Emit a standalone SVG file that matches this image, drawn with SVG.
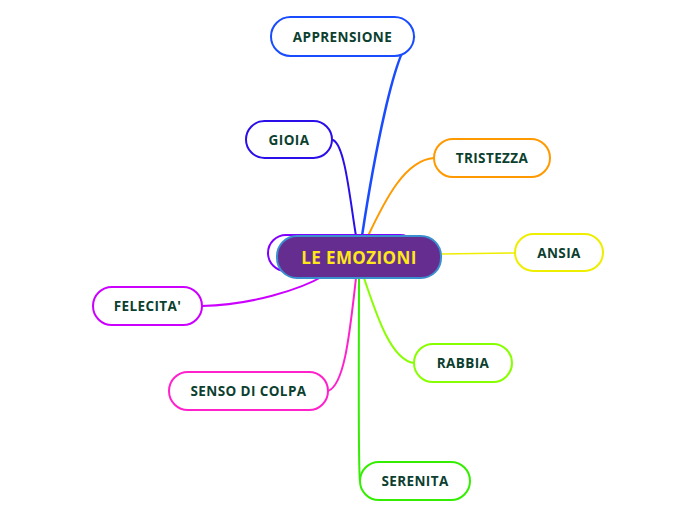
<svg xmlns="http://www.w3.org/2000/svg" width="696" height="520" viewBox="0 0 696 520">
<style>
.n rect{fill:#fff;stroke-width:2}
.n text{font-family:"Open Sans","Noto Sans",sans-serif;font-weight:bold;font-size:13.5px;letter-spacing:0.4px;fill:#0c3f2f;text-anchor:middle;dominant-baseline:central}
.c path{fill:none;stroke-linecap:round}
</style>
<rect width="696" height="520" fill="#fff"/>
<g class="c" id="connectors">
<path d="M362,236 C372,170 395,40 414,37" stroke="#1a4cff" stroke-width="2.5"/>
<path d="M356,236 C350,200 345,145 333,140" stroke="#2a0fe8" stroke-width="2"/>
<path d="M368,236 C385,200 405,160 434,158" stroke="#ff9900" stroke-width="2"/>
<path d="M441,254 L515,253" stroke="#eeee00" stroke-width="1.5"/>
<path d="M364,278 C375,310 390,360 414,363" stroke="#88ff00" stroke-width="2"/>
<path d="M359,278 C359,340 358,470 360,481" stroke="#33ee00" stroke-width="2"/>
<path d="M356,278 C350,330 345,385 328,391" stroke="#ff22cc" stroke-width="2"/>
<path d="M325,275 C300,290 250,305 202,306" stroke="#cc00ff" stroke-width="2"/>
</g>
<g class="n" id="apprensione"><rect x="271" y="17" width="143" height="39" rx="19.5" stroke="#1a4cff"/><text x="342.5" y="37">APPRENSIONE</text></g>
<g class="n" id="gioia"><rect x="246" y="121" width="86" height="37" rx="18.5" stroke="#2a0fe8"/><text x="289" y="140">GIOIA</text></g>
<g class="n" id="tristezza"><rect x="434" y="139" width="116" height="38" rx="19" stroke="#ff9900"/><text x="492" y="158">TRISTEZZA</text></g>
<g class="n" id="ansia"><rect x="515" y="234" width="88" height="37" rx="18.5" stroke="#eeee00"/><text x="559" y="253">ANSIA</text></g>
<g class="n" id="rabbia"><rect x="414" y="344" width="98" height="38" rx="19" stroke="#88ff00"/><text x="463" y="363">RABBIA</text></g>
<g class="n" id="serenita"><rect x="360" y="462" width="110" height="38" rx="19" stroke="#33ee00"/><text x="415" y="481">SERENITA</text></g>
<g class="n" id="senso-di-colpa"><rect x="169" y="372" width="159" height="38" rx="19" stroke="#ff22cc"/><text x="248.5" y="391">SENSO DI COLPA</text></g>
<g class="n" id="felecita"><rect x="93" y="287" width="109" height="38" rx="19" stroke="#cc00ff"/><text x="147.5" y="306">FELECITA'</text></g>
<g id="hidden-node"><rect x="268" y="235" width="150" height="36" rx="18" fill="#fff" stroke="#8000ff" stroke-width="2"/></g>
<g id="le-emozioni"><rect x="277" y="236" width="164" height="42" rx="20" fill="#662d91" stroke="#3a8fcf" stroke-width="2"/><text x="359" y="257" font-family="'Open Sans','Noto Sans',sans-serif" font-weight="bold" font-size="17" letter-spacing="0.4" fill="#ffe81a" text-anchor="middle" dominant-baseline="central">LE EMOZIONI</text></g>
</svg>
